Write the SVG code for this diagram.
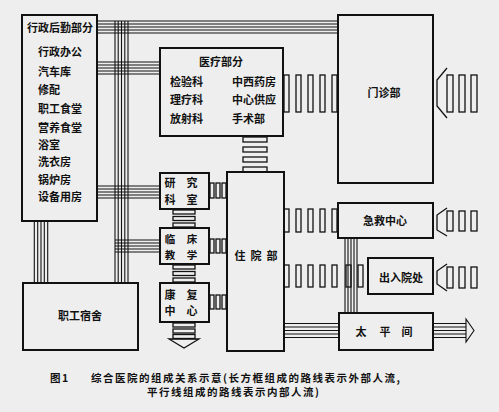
<svg xmlns="http://www.w3.org/2000/svg" width="499" height="412" viewBox="0 0 499 412">
<style>
.box{fill:none;stroke:#111;stroke-width:2}
.ln{stroke:#111;stroke-width:1.1;fill:none}
.rg{fill:none;stroke:#111;stroke-width:1.3}
.t{font-family:"Noto Sans CJK SC","Noto Sans CJK TC",sans-serif;font-weight:bold;font-size:11px;fill:#111}
.s{font-size:10.5px}
.c{text-anchor:middle}
.cap{font-family:"Noto Sans CJK SC",sans-serif;font-weight:bold;font-size:10.5px;fill:#111;letter-spacing:1.5px}
</style>
<rect width="499" height="412" fill="#eeeeee"/>

<g id="connectors">
  <g class="ln">
    <line x1="97" y1="21" x2="338" y2="21"/>
    <line x1="97" y1="24" x2="338" y2="24"/>
    <line x1="97" y1="27" x2="338" y2="27"/>
    <line x1="97" y1="30" x2="338" y2="30"/>
    <line x1="97" y1="33" x2="338" y2="33"/>
    <line x1="97" y1="62" x2="160" y2="62"/>
    <line x1="97" y1="65" x2="160" y2="65"/>
    <line x1="97" y1="68" x2="160" y2="68"/>
    <line x1="97" y1="71" x2="160" y2="71"/>
    <line x1="97" y1="74" x2="160" y2="74"/>
    <line x1="97" y1="186" x2="160" y2="186"/>
    <line x1="97" y1="189" x2="160" y2="189"/>
    <line x1="97" y1="192" x2="160" y2="192"/>
    <line x1="97" y1="195" x2="160" y2="195"/>
    <line x1="97" y1="198" x2="160" y2="198"/>
    <line x1="115" y1="240" x2="160" y2="240"/>
    <line x1="115" y1="243" x2="160" y2="243"/>
    <line x1="115" y1="246" x2="160" y2="246"/>
    <line x1="115" y1="249" x2="160" y2="249"/>
    <line x1="115" y1="252" x2="160" y2="252"/>
    <line x1="115" y1="21" x2="115" y2="283"/>
    <line x1="118.2" y1="21" x2="118.2" y2="283"/>
    <line x1="121.5" y1="21" x2="121.5" y2="283"/>
    <line x1="124.8" y1="21" x2="124.8" y2="283"/>
    <line x1="128" y1="21" x2="128" y2="283"/>
    <line x1="34.3" y1="221" x2="34.3" y2="283"/>
    <line x1="37.7" y1="221" x2="37.7" y2="283"/>
    <line x1="41" y1="221" x2="41" y2="283"/>
    <line x1="44.3" y1="221" x2="44.3" y2="283"/>
    <line x1="47.7" y1="221" x2="47.7" y2="283"/>
    <line x1="345" y1="238" x2="345" y2="313"/>
    <line x1="348" y1="238" x2="348" y2="313"/>
    <line x1="351" y1="238" x2="351" y2="313"/>
    <line x1="354" y1="238" x2="354" y2="313"/>
    <line x1="357" y1="238" x2="357" y2="313"/>
    <line x1="284" y1="323.5" x2="339" y2="323.5"/>
    <line x1="284" y1="327" x2="339" y2="327"/>
    <line x1="284" y1="330.5" x2="339" y2="330.5"/>
    <line x1="284" y1="334" x2="339" y2="334"/>
    <line x1="284" y1="337.5" x2="339" y2="337.5"/>
    <line x1="433" y1="323.5" x2="466" y2="323.5"/>
    <line x1="433" y1="327" x2="466" y2="327"/>
    <line x1="433" y1="330.5" x2="466" y2="330.5"/>
    <line x1="433" y1="334" x2="466" y2="334"/>
    <line x1="433" y1="337.5" x2="466" y2="337.5"/>
    <polygon points="466,319 474,330.5 466,342"/>
  </g>
  <g class="rg">
    <rect x="284" y="75" width="5" height="37"/>
    <rect x="296" y="75" width="5" height="37"/>
    <rect x="308" y="75" width="5" height="37"/>
    <rect x="320" y="75" width="5" height="37"/>
    <rect x="332" y="75" width="5" height="37"/>
    <polyline points="447,68 437,80 437,106 447,118"/>
    <rect x="447" y="75" width="6" height="37"/>
    <rect x="459" y="75" width="6" height="37"/>
    <rect x="471" y="75" width="6" height="37"/>
    <rect x="243" y="137" width="24" height="5"/>
    <rect x="243" y="147" width="24" height="5"/>
    <rect x="243" y="157" width="24" height="5"/>
    <rect x="243" y="167" width="24" height="5"/>
    <rect x="173" y="210" width="22" height="4"/>
    <rect x="173" y="216.5" width="22" height="4"/>
    <rect x="173" y="223" width="22" height="4"/>
    <rect x="173" y="265" width="22" height="4"/>
    <rect x="173" y="271.5" width="22" height="4"/>
    <rect x="173" y="278" width="22" height="4"/>
    <rect x="173" y="323" width="22" height="4"/>
    <rect x="173" y="329" width="22" height="4"/>
    <rect x="173" y="334.5" width="22" height="4"/>
    <polygon points="169,339 199,339 184,348"/>
    <rect x="210" y="183" width="4" height="15"/>
    <rect x="216" y="183" width="4" height="15"/>
    <rect x="222" y="183" width="4" height="15"/>
    <rect x="210" y="239" width="4" height="14"/>
    <rect x="216" y="239" width="4" height="14"/>
    <rect x="222" y="239" width="4" height="14"/>
    <rect x="210" y="295" width="4" height="14"/>
    <rect x="216" y="295" width="4" height="14"/>
    <rect x="222" y="295" width="4" height="14"/>
    <rect x="284" y="209" width="5" height="23"/>
    <rect x="296" y="209" width="5" height="23"/>
    <rect x="308" y="209" width="5" height="23"/>
    <rect x="320" y="209" width="5" height="23"/>
    <rect x="332" y="209" width="5" height="23"/>
    <rect x="284" y="265" width="5" height="22"/>
    <rect x="296" y="265" width="5" height="22"/>
    <rect x="308" y="265" width="5" height="22"/>
    <rect x="320" y="265" width="5" height="22"/>
    <rect x="332" y="265" width="5" height="22"/>
    <rect x="346" y="265" width="5" height="22"/>
    <rect x="358" y="265" width="5" height="22"/>
    <polyline points="447,208 437,215 437,230 447,236"/>
    <rect x="447" y="211" width="6" height="20"/>
    <rect x="459" y="211" width="6" height="20"/>
    <rect x="471" y="211" width="6" height="20"/>
    <polyline points="447,264 437,271 437,284 447,291"/>
    <rect x="447" y="267" width="6" height="21"/>
    <rect x="459" y="267" width="6" height="21"/>
    <rect x="471" y="267" width="6" height="21"/>
  </g>
</g>

<g id="admin">
  <rect class="box" x="22" y="15" width="75" height="206"/>
  <text class="t c" x="60" y="32">行政后勤部分</text>
  <text class="t" x="38" y="56">行政办公</text>
  <text class="t" x="38" y="76">汽车库</text>
  <text class="t" x="38" y="94">修配</text>
  <text class="t" x="38" y="113">职工食堂</text>
  <text class="t" x="38" y="132">营养食堂</text>
  <text class="t" x="38" y="149">浴室</text>
  <text class="t" x="38" y="166">洗衣房</text>
  <text class="t" x="38" y="184">锅炉房</text>
  <text class="t" x="38" y="201">设备用房</text>
</g>

<g id="medical">
  <rect class="box" x="160" y="48" width="123" height="88"/>
  <text class="t c" x="221" y="66">医疗部分</text>
  <text class="t" x="170" y="86">检验科</text>
  <text class="t" x="170" y="104">理疗科</text>
  <text class="t" x="170" y="123">放射科</text>
  <text class="t" x="232" y="86">中西药房</text>
  <text class="t" x="232" y="104">中心供应</text>
  <text class="t" x="232" y="123">手术部</text>
</g>

<g id="outpatient">
  <rect class="box" x="338" y="15" width="95" height="168"/>
  <text class="t c" x="384" y="97">门诊部</text>
</g>

<g id="research">
  <rect class="box" x="160" y="173" width="49" height="36"/>
  <text class="t c" x="170" y="187">研</text>
  <text class="t c" x="192" y="187">究</text>
  <text class="t c" x="170" y="204">科</text>
  <text class="t c" x="192" y="204">室</text>
</g>

<g id="clinical">
  <rect class="box" x="160" y="228" width="49" height="36"/>
  <text class="t s c" x="170" y="243">临</text>
  <text class="t s c" x="192" y="243">床</text>
  <text class="t s c" x="170" y="259">教</text>
  <text class="t s c" x="192" y="259">学</text>
</g>

<g id="rehab">
  <rect class="box" x="160" y="283" width="49" height="39"/>
  <text class="t c" x="170" y="299">康</text>
  <text class="t c" x="192" y="299">复</text>
  <text class="t c" x="170" y="315">中</text>
  <text class="t c" x="192" y="315">心</text>
</g>

<g id="inpatient">
  <rect class="box" x="227" y="172" width="57" height="179"/>
  <text class="t c" x="240" y="260">住</text>
  <text class="t c" x="256" y="260">院</text>
  <text class="t c" x="272" y="260">部</text>
</g>

<g id="emergency">
  <rect class="box" x="338" y="203" width="95" height="35"/>
  <text class="t c" x="385" y="225">急救中心</text>
</g>

<g id="admission">
  <rect class="box" x="368" y="258" width="65" height="36"/>
  <text class="t c" x="401" y="282">出入院处</text>
</g>

<g id="mortuary">
  <rect class="box" x="339" y="313" width="94" height="37"/>
  <text class="t c" x="361" y="336">太</text>
  <text class="t c" x="385" y="336">平</text>
  <text class="t c" x="407" y="336">间</text>
</g>

<g id="dorm">
  <rect class="box" x="23" y="283" width="115" height="67"/>
  <text class="t c" x="80" y="320">职工宿舍</text>
</g>

<g id="caption">
  <text class="cap" x="50" y="382">图1</text>
  <text class="cap" x="91" y="382">综合医院的组成关系示意(长方框组成的路线表示外部人流,</text>
  <text class="cap" x="147" y="396">平行线组成的路线表示内部人流)</text>
</g>
</svg>
